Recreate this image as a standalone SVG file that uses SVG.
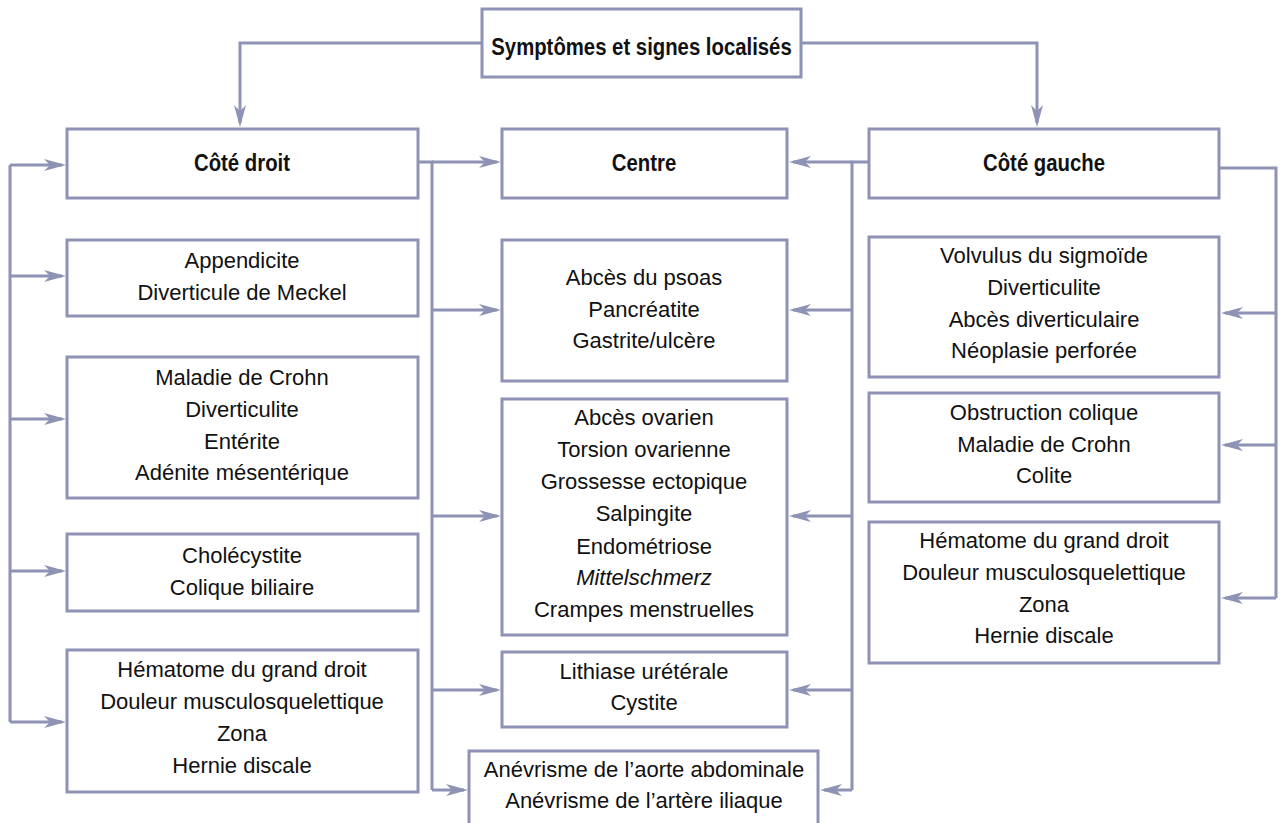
<svg xmlns="http://www.w3.org/2000/svg" width="1280" height="823" viewBox="0 0 1280 823">
<defs>
<style>
.box{fill:#fff;stroke:#8e92b4;stroke-width:3}
.ln{fill:none;stroke:#8e92b4;stroke-width:3}
.ar{fill:none;stroke:#8e92b4;stroke-width:3;marker-end:url(#ah)}
text{font-family:"Liberation Sans",Arial,sans-serif;font-size:22px;fill:#111;text-anchor:middle}
.t{font-weight:bold;font-size:24.5px}
.i{font-style:italic}
</style>
<marker id="ah" markerWidth="22" markerHeight="14" refX="18" refY="7" orient="auto" markerUnits="userSpaceOnUse">
<path d="M0,1 L22,7 L0,13 L6,7 Z" fill="#8e92b4"/>
</marker>
</defs>
<rect width="1280" height="823" fill="#fff"/>

<g id="connectors">
<path class="ar" d="M482,43 H240 V123"/>
<path class="ar" d="M801,43 H1037 V123"/>
<path class="ln" d="M10,165 V722"/>
<path class="ar" d="M10,165 H62"/>
<path class="ar" d="M10,276 H62"/>
<path class="ar" d="M10,419 H62"/>
<path class="ar" d="M10,571 H62"/>
<path class="ar" d="M10,722 H62"/>
<path class="ln" d="M418,162 H432 V790"/>
<path class="ar" d="M432,162 H497"/>
<path class="ar" d="M432,310 H497"/>
<path class="ar" d="M432,516 H497"/>
<path class="ar" d="M432,690 H497"/>
<path class="ar" d="M432,790 H464"/>
<path class="ln" d="M869,162 H852 V790"/>
<path class="ar" d="M852,162 H793"/>
<path class="ar" d="M852,310 H793"/>
<path class="ar" d="M852,516 H793"/>
<path class="ar" d="M852,690 H793"/>
<path class="ar" d="M852,790 H824"/>
<path class="ln" d="M1219,168 H1276 V598"/>
<path class="ar" d="M1276,313 H1225"/>
<path class="ar" d="M1276,445 H1225"/>
<path class="ar" d="M1276,598 H1225"/>
</g>

<g id="n-top"><rect class="box" x="482" y="9" width="319" height="68"/><text class="t" transform="translate(641.5,55) scale(0.83,1)">Symptômes et signes localisés</text></g>

<g id="n-droit"><rect class="box" x="67" y="129" width="351" height="69"/><text class="t" transform="translate(242,171) scale(0.83,1)">Côté droit</text></g>
<g id="n-centre"><rect class="box" x="502" y="129" width="285" height="69"/><text class="t" transform="translate(644,171) scale(0.83,1)">Centre</text></g>
<g id="n-gauche"><rect class="box" x="869" y="129" width="350" height="69"/><text class="t" transform="translate(1044,171) scale(0.83,1)">Côté gauche</text></g>

<g id="n-l1"><rect class="box" x="67" y="240" width="351" height="76"/>
<text x="242" y="268">Appendicite</text><text x="242" y="300">Diverticule de Meckel</text></g>
<g id="n-l2"><rect class="box" x="67" y="357" width="351" height="141"/>
<text x="242" y="385">Maladie de Crohn</text><text x="242" y="417">Diverticulite</text><text x="242" y="449">Entérite</text><text x="242" y="480">Adénite mésentérique</text></g>
<g id="n-l3"><rect class="box" x="67" y="534" width="351" height="77"/>
<text x="242" y="563">Cholécystite</text><text x="242" y="595">Colique biliaire</text></g>
<g id="n-l4"><rect class="box" x="67" y="650" width="351" height="142"/>
<text x="242" y="677">Hématome du grand droit</text><text x="242" y="709">Douleur musculosquelettique</text><text x="242" y="741">Zona</text><text x="242" y="773">Hernie discale</text></g>

<g id="n-c1"><rect class="box" x="502" y="240" width="285" height="141"/>
<text x="644" y="285">Abcès du psoas</text><text x="644" y="317">Pancréatite</text><text x="644" y="348">Gastrite/ulcère</text></g>
<g id="n-c2"><rect class="box" x="502" y="399" width="285" height="236"/>
<text x="644" y="425">Abcès ovarien</text><text x="644" y="457">Torsion ovarienne</text><text x="644" y="489">Grossesse ectopique</text><text x="644" y="521">Salpingite</text><text x="644" y="554">Endométriose</text><text class="i" x="644" y="585">Mittelschmerz</text><text x="644" y="617">Crampes menstruelles</text></g>
<g id="n-c3"><rect class="box" x="502" y="652" width="285" height="75"/>
<text x="644" y="679">Lithiase urétérale</text><text x="644" y="710">Cystite</text></g>
<g id="n-c4"><rect class="box" x="469" y="751" width="349" height="90"/>
<text x="644" y="777">Anévrisme de l’aorte abdominale</text><text x="644" y="808">Anévrisme de l’artère iliaque</text></g>

<g id="n-r1"><rect class="box" x="869" y="237" width="350" height="140"/>
<text x="1044" y="263">Volvulus du sigmoïde</text><text x="1044" y="295">Diverticulite</text><text x="1044" y="327">Abcès diverticulaire</text><text x="1044" y="358">Néoplasie perforée</text></g>
<g id="n-r2"><rect class="box" x="869" y="393" width="350" height="109"/>
<text x="1044" y="420">Obstruction colique</text><text x="1044" y="452">Maladie de Crohn</text><text x="1044" y="483">Colite</text></g>
<g id="n-r3"><rect class="box" x="869" y="522" width="350" height="141"/>
<text x="1044" y="548">Hématome du grand droit</text><text x="1044" y="580">Douleur musculosquelettique</text><text x="1044" y="612">Zona</text><text x="1044" y="643">Hernie discale</text></g>
</svg>
